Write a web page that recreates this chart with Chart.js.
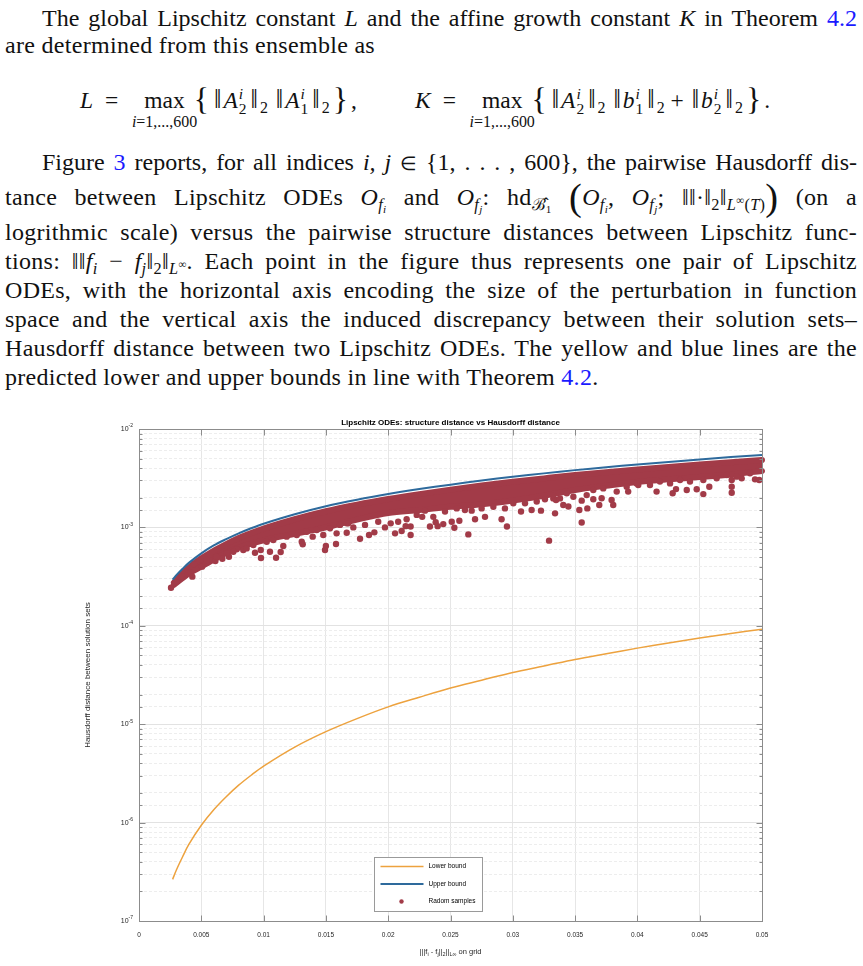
<!DOCTYPE html>
<html>
<head>
<meta charset="utf-8">
<script src="https://cdn.jsdelivr.net/npm/chart.js@4.4.1/dist/chart.umd.min.js"></script>
<style>
  html, body { margin: 0; padding: 0; background: #fff; }
  body { width: 863px; height: 966px; position: relative; overflow: hidden;
         font-family: "Liberation Serif", "Times New Roman", serif; font-size: 24px; color: #111; }
  .ln { position: absolute; left: 5px; width: 852px; height: 29px; line-height: 29px;
        text-align: justify; text-align-last: justify; letter-spacing: 0.3px; }
  .ln.ind { left: 42px; width: 815px; letter-spacing: 0; }
  .ln.last { text-align: left; text-align-last: left; }
  a { color: #1a1aff; text-decoration: none; }
  sub, sup { font-size: 0.68em; line-height: 0; }
  sub { vertical-align: -0.3em; }
  sup { vertical-align: 0.55em; }
  .in { font-size: 0.8em; }
  .big { font-size: 1.6em; vertical-align: -0.12em; line-height: 0; font-weight: 300; }
  .disp { position: absolute; white-space: nowrap; line-height: 29px; font-size: 23.5px; }
  .eq { margin: 0 12px; }
  .op { display: inline-block; position: relative; margin: 0 6px 0 14px; }
  .lim { position: absolute; top: 21px; left: 50%; transform: translateX(-50%);
         font-size: 0.68em; white-space: nowrap; }
  .ss { display: inline-flex; flex-direction: column; font-size: 0.66em; line-height: 0.95em;
        vertical-align: 0.6em; margin: 0 2px 0 1px; }
  .nb { font-size: 1.12em; margin: 0 2px; }
  .br { font-size: 1.35em; vertical-align: -0.06em; margin: 0 3px; }
  #wrap { position: absolute; left: 0; top: 400px; width: 863px; height: 566px; }
</style>
</head>
<body>

<div class="ln ind" style="top:4px">The global Lipschitz constant <i>L</i> and the affine growth constant <i>K</i> in Theorem <a>4.2</a></div>
<div class="ln last" style="top:31px">are determined from this ensemble as</div>

<div class="disp" style="left:80px;top:85px"><i>L</i><span class="eq">=</span><span class="op">max<span class="lim"><i>i</i>=1,...,600</span></span><span class="br">{</span><span class="nb">‖</span><i>A</i><span class="ss"><i>i</i><span>2</span></span><span class="nb">‖</span><sub>2</sub>&nbsp;<span class="nb">‖</span><i>A</i><span class="ss"><i>i</i><span>1</span></span><span class="nb">‖</span><sub>2</sub><span class="br">}</span>,</div>
<div class="disp" style="left:415px;top:85px"><i>K</i><span class="eq">=</span><span class="op">max<span class="lim"><i>i</i>=1,...,600</span></span><span class="br">{</span><span class="nb">‖</span><i>A</i><span class="ss"><i>i</i><span>2</span></span><span class="nb">‖</span><sub>2</sub>&nbsp;<span class="nb">‖</span><i>b</i><span class="ss"><i>i</i><span>1</span></span><span class="nb">‖</span><sub>2</sub> + <span class="nb">‖</span><i>b</i><span class="ss"><i>i</i><span>2</span></span><span class="nb">‖</span><sub>2</sub><span class="br">}</span>.</div>

<div class="ln ind" style="top:148px">Figure <a>3</a> reports, for all indices <i>i, j</i> <span class="in">∈</span> {1, . . . , 600}, the pairwise Hausdorff dis-</div>
<div class="ln" style="top:183px">tance between Lipschitz ODEs <i>O</i><sub><i>f<sub>i</sub></i></sub> and <i>O</i><sub><i>f<sub>j</sub></i></sub>: hd<sub>ℬ̂<sub>1</sub></sub> <span class="big">(</span><i>O</i><sub><i>f<sub>i</sub></i></sub>, <i>O</i><sub><i>f<sub>j</sub></i></sub>; ‖‖·‖<sub>2</sub>‖<sub><i>L</i><sup>∞</sup>(<i>T</i>)</sub><span class="big">)</span> (on a</div>
<div class="ln" style="top:218px">logrithmic scale) versus the pairwise structure distances between Lipschitz func-</div>
<div class="ln" style="top:247px">tions: ‖‖<i>f<sub>i</sub></i> − <i>f<sub>j</sub></i>‖<sub>2</sub>‖<sub><i>L</i><sup>∞</sup></sub>. Each point in the figure thus represents one pair of Lipschitz</div>
<div class="ln" style="top:276px">ODEs, with the horizontal axis encoding the size of the perturbation in function</div>
<div class="ln" style="top:305px">space and the vertical axis the induced discrepancy between their solution sets–</div>
<div class="ln" style="top:334px">Hausdorff distance between two Lipschitz ODEs. The yellow and blue lines are the</div>
<div class="ln last" style="top:363px">predicted lower and upper bounds in line with Theorem <a>4.2</a>.</div>

<div id="wrap"><canvas id="chart" width="863" height="566"></canvas></div>

<script>
// structure distance grid for the two bound curves
const boundX = [0.0027, 0.003, 0.0035, 0.004, 0.005, 0.006, 0.007, 0.008, 0.009, 0.01, 0.0125, 0.015, 0.0175,
  0.02, 0.0225, 0.025, 0.0275, 0.03, 0.0325, 0.035, 0.0375, 0.04, 0.0425, 0.045, 0.0475, 0.05];
const lowerBound = [2.65e-7, 3.3e-7, 4.5e-7, 6.0e-7, 9.4e-7, 1.35e-6, 1.83e-6, 2.4e-6, 3.03e-6, 3.75e-6, 5.85e-6,
  8.4e-6, 1.14e-5, 1.5e-5, 1.88e-5, 2.33e-5, 2.8e-5, 3.36e-5, 3.9e-5, 4.55e-5, 5.2e-5, 5.93e-5, 6.7e-5,
  7.5e-5, 8.35e-5, 9.25e-5];
const upperBound = [2.95e-4, 3.27e-4, 3.8e-4, 4.36e-4, 5.45e-4, 6.55e-4, 7.6e-4, 8.7e-4, 9.8e-4, 1.09e-3, 1.36e-3,
  1.64e-3, 1.91e-3, 2.18e-3, 2.45e-3, 2.72e-3, 3.0e-3, 3.27e-3, 3.54e-3, 3.82e-3, 4.09e-3, 4.36e-3, 4.63e-3,
  4.9e-3, 5.18e-3, 5.45e-3];

// dense part of the sample cloud (top and bottom edge of the red band)
const bandX = [0.0028, 0.004, 0.005, 0.0075, 0.01, 0.0125, 0.015, 0.0175, 0.02, 0.0225, 0.025,
  0.0275, 0.03, 0.0325, 0.035, 0.0375, 0.04, 0.0425, 0.045, 0.0475, 0.05];
const bandTop = [2.75e-4, 3.9e-4, 4.85e-4, 7.3e-4, 9.7e-4, 1.21e-3, 1.46e-3, 1.7e-3, 1.94e-3, 2.18e-3, 2.42e-3,
  2.67e-3, 2.91e-3, 3.15e-3, 3.4e-3, 3.64e-3, 3.88e-3, 4.12e-3, 4.36e-3, 4.6e-3, 4.85e-3];
const bandBottom = [2.6e-4, 3.4e-4, 4.0e-4, 5.9e-4, 7.4e-4, 8.6e-4, 1.0e-3, 1.2e-3, 1.4e-3, 1.5e-3, 1.62e-3,
  1.72e-3, 1.88e-3, 2.1e-3, 2.4e-3, 2.65e-3, 2.9e-3, 3.08e-3, 3.25e-3, 3.45e-3, 3.75e-3];

// scattered samples below the dense band
const sampleX = [0.00257, 0.00297, 0.00343, 0.00388, 0.00415, 0.00428, 0.00441, 0.00506, 0.00613, 0.00669,
  0.00722, 0.00784, 0.00837, 0.00931, 0.00977, 0.00979, 0.01051, 0.011, 0.01137, 0.01158,
  0.01306, 0.01314, 0.01394, 0.01479, 0.01493, 0.015, 0.01581, 0.01586, 0.01667, 0.01774,
  0.01846, 0.01889, 0.0202, 0.02055, 0.02108, 0.0214, 0.0218, 0.0218, 0.02273, 0.02335,
  0.02381, 0.02397, 0.02442, 0.0251, 0.02531, 0.02571, 0.02643, 0.02697, 0.02777, 0.0291,
  0.02953, 0.03066, 0.03151, 0.03226, 0.03291, 0.03339, 0.03347, 0.03405, 0.03446, 0.03534,
  0.03553, 0.03553, 0.03598, 0.03646, 0.03694, 0.03713, 0.03793, 0.03806, 0.03926, 0.04007,
  0.04154, 0.04283, 0.0431, 0.04396, 0.04476, 0.04529, 0.04577, 0.04757, 0.04757, 0.04757,
  0.04837, 0.04944, 0.04978,
  0.00543, 0.00623, 0.00704, 0.00757, 0.00864, 0.00918, 0.01025, 0.01078, 0.01185, 0.01266,
  0.01346, 0.01426, 0.01533, 0.01613, 0.01667, 0.0168, 0.0172, 0.01814, 0.0192, 0.01974,
  0.0208, 0.02148, 0.02229, 0.02295, 0.02362, 0.02456, 0.0255, 0.02616, 0.0267, 0.0275,
  0.02844, 0.02937, 0.03004, 0.03098, 0.03192, 0.03258, 0.03325, 0.03325, 0.03379, 0.03433,
  0.03486, 0.03593, 0.03646, 0.03726, 0.03834, 0.03914, 0.03994, 0.04101, 0.04181, 0.04262,
  0.04342, 0.04422, 0.04529, 0.04636, 0.04717, 0.04797, 0.04904];
const sampleY = [2.44e-4, 2.81e-4, 3.2e-4, 3.75e-4, 3.49e-4, 3.16e-4, 4.22e-4, 3.99e-4, 4.56e-4, 4.81e-4,
  5.04e-4, 5.99e-4, 5.89e-4, 5.53e-4, 5.89e-4, 4.89e-4, 5.66e-4, 4.92e-4, 5.62e-4, 6.46e-4,
  7.16e-4, 6.73e-4, 8.05e-4, 8.38e-4, 5.89e-4, 6.46e-4, 6.78e-4, 8.7e-4, 8.83e-4, 7.68e-4,
  8.38e-4, 8.91e-4, 1.1e-3, 8.7e-4, 9.18e-4, 1.03e-3, 8.38e-4, 1.02e-3, 1.28e-3, 1.02e-3,
  1.13e-3, 1.03e-3, 1.08e-3, 1.14e-3, 9.93e-4, 1.17e-3, 8.49e-4, 1.21e-3, 1.28e-3, 1.21e-3,
  1.02e-3, 1.45e-3, 1.5e-3, 1.48e-3, 7.33e-4, 1.39e-3, 1.9e-3, 1.69e-3, 1.63e-3, 1.5e-3,
  1.12e-3, 1.87e-3, 1.56e-3, 1.93e-3, 1.69e-3, 1.98e-3, 1.9e-3, 1.69e-3, 2.31e-3, 2.7e-3,
  2.31e-3, 2.22e-3, 2.45e-3, 2.4e-3, 2.44e-3, 2.18e-3, 2.59e-3, 2.59e-3, 2.25e-3, 3.03e-3,
  3.15e-3, 3.08e-3, 3.03e-3,
  4.67e-4, 5.04e-4, 5.45e-4, 5.66e-4, 6.12e-4, 6.62e-4, 7.16e-4, 7.45e-4, 8.05e-4, 8.38e-4,
  9.04e-4, 9.42e-4, 9.79e-4, 1.06e-3, 1.1e-3, 1.1e-3, 1.0e-3, 1.06e-3, 1.14e-3, 1.0e-3,
  1.14e-3, 1.21e-3, 1.34e-3, 1.48e-3, 1.28e-3, 1.45e-3, 1.56e-3, 1.5e-3, 1.48e-3, 1.56e-3,
  1.62e-3, 1.56e-3, 1.76e-3, 1.76e-3, 1.83e-3, 1.93e-3, 1.97e-3, 2.13e-3, 1.97e-3, 2.22e-3,
  2.05e-3, 2.13e-3, 2.4e-3, 2.49e-3, 2.31e-3, 2.59e-3, 2.8e-3, 2.7e-3, 2.92e-3, 2.8e-3,
  3.03e-3, 2.92e-3, 3.03e-3, 3.15e-3, 3.41e-3, 3.28e-3, 3.55e-3];

const xTickLabels = ['0', '0.005', '0.01', '0.015', '0.02', '0.025', '0.03', '0.035', '0.04', '0.045', '0.05'];

const RED = '#a23b48';
const ORANGE = '#eda23e';
const BLUE = '#2e6a9c';
const INK = '#262626';

function pts(xs, ys) {
  return xs.map(function (x, i) { return { x: x, y: ys[i] }; });
}
function isDecade(v) {
  const l = Math.log10(v);
  return Math.abs(l - Math.round(l)) < 1e-6;
}

Chart.defaults.font.family = '"Liberation Sans", Arial, sans-serif';

// MATLAB-like box, inner tick marks, superscript tick labels, titles and legend
const matlabAxes = {
  id: 'matlabAxes',
  afterDraw(chart) {
    const ctx = chart.ctx;
    const a = chart.chartArea;
    const xs = chart.scales.x;
    const ys = chart.scales.y;
    ctx.save();

    ctx.strokeStyle = '#8c8c8c';
    ctx.lineWidth = 1;
    const L = Math.round(a.left) + 0.5, R = Math.round(a.right) + 0.5;
    const T = Math.round(a.top) + 0.5, B = Math.round(a.bottom) + 0.5;
    ctx.strokeRect(L, T, R - L, B - T);

    ctx.beginPath();
    xs.ticks.forEach(function (t) {
      const px = Math.round(xs.getPixelForValue(t.value)) + 0.5;
      ctx.moveTo(px, B); ctx.lineTo(px, B - 6);
      ctx.moveTo(px, T); ctx.lineTo(px, T + 6);
    });
    ys.ticks.forEach(function (t) {
      const py = Math.round(ys.getPixelForValue(t.value)) + 0.5;
      const len = isDecade(t.value) ? 6 : 3;
      ctx.moveTo(L, py); ctx.lineTo(L + len, py);
      ctx.moveTo(R, py); ctx.lineTo(R - len, py);
    });
    ctx.stroke();

    // y tick labels 10^n
    ctx.fillStyle = INK;
    ctx.textBaseline = 'middle';
    ctx.textAlign = 'right';
    ys.ticks.forEach(function (t) {
      if (!isDecade(t.value)) return;
      const py = ys.getPixelForValue(t.value);
      const ex = String(Math.round(Math.log10(t.value)));
      ctx.font = '5px "Liberation Sans", Arial, sans-serif';
      const ew = ctx.measureText(ex).width;
      ctx.fillText(ex, a.left - 6, py - 3);
      ctx.font = '7px "Liberation Sans", Arial, sans-serif';
      ctx.fillText('10', a.left - 6 - ew, py);
    });

    // title
    ctx.textAlign = 'center';
    ctx.font = 'bold 8px "Liberation Sans", Arial, sans-serif';
    ctx.fillStyle = '#000';
    ctx.fillText('Lipschitz ODEs: structure distance vs Hausdorff distance', (a.left + a.right) / 2, a.top - 6);

    // y axis title
    ctx.fillStyle = INK;
    ctx.font = '8px "Liberation Sans", Arial, sans-serif';
    ctx.save();
    ctx.translate(a.left - 51, (a.top + a.bottom) / 2);
    ctx.rotate(-Math.PI / 2);
    ctx.fillText('Hausdorff distance between solution sets', 0, 0);
    ctx.restore();

    // x axis title with subscripts
    const segs = [['|||f', 0], ['i', 1], [' - f', 0], ['j', 1], ['||', 0], ['2', 1], ['||', 0], ['L\u221E', 1], [' on grid', 0]];
    let total = 0;
    segs.forEach(function (s) {
      ctx.font = (s[1] ? '5.5px' : '7.5px') + ' "Liberation Sans", Arial, sans-serif';
      total += ctx.measureText(s[0]).width;
    });
    let cx = (a.left + a.right) / 2 - total / 2;
    const by = a.bottom + 33;
    ctx.textAlign = 'left';
    ctx.textBaseline = 'alphabetic';
    segs.forEach(function (s) {
      ctx.font = (s[1] ? '5.5px' : '7.5px') + ' "Liberation Sans", Arial, sans-serif';
      ctx.fillText(s[0], cx, by + (s[1] ? 2 : 0));
      cx += ctx.measureText(s[0]).width;
    });

    // legend
    const lx = Math.round(a.left + 235) + 0.5, ly = Math.round(a.top + 428) + 0.5;
    ctx.fillStyle = '#fff';
    ctx.fillRect(lx, ly, 108, 54);
    ctx.strokeStyle = '#9a9a9a';
    ctx.strokeRect(lx, ly, 108, 54);
    ctx.font = '6.5px "Liberation Sans", Arial, sans-serif';
    ctx.textBaseline = 'middle';
    const items = chart.data.datasets.filter(function (d) { return d.inLegend; });
    items.forEach(function (d, i) {
      const yy = ly + 9 + i * 17.5;
      if (d.type === 'scatter') {
        ctx.fillStyle = d.backgroundColor;
        ctx.beginPath(); ctx.arc(lx + 27, yy, 2.2, 0, Math.PI * 2); ctx.fill();
      } else {
        ctx.strokeStyle = d.borderColor;
        ctx.lineWidth = d.borderWidth;
        ctx.beginPath(); ctx.moveTo(lx + 6, yy); ctx.lineTo(lx + 49, yy); ctx.stroke();
      }
      ctx.fillStyle = '#000';
      ctx.fillText(d.label, lx + 54, yy);
    });
    ctx.restore();
  }
};

const chart = new Chart(document.getElementById('chart'), {
  data: {
    datasets: [{
      type: 'line',
      label: 'Lower bound',
      inLegend: true,
      data: pts(boundX, lowerBound),
      borderColor: ORANGE,
      borderWidth: 1.5,
      pointRadius: 0,
      tension: 0.35,
      order: 0
    },
    {
      type: 'line',
      label: 'Upper bound',
      inLegend: true,
      data: pts(boundX, upperBound),
      borderColor: BLUE,
      borderWidth: 2,
      pointRadius: 0,
      tension: 0.35,
      order: 0
    },
    {
      type: 'scatter',
      label: 'Radom samples',
      inLegend: true,
      data: pts(sampleX, sampleY),
      backgroundColor: RED,
      borderWidth: 0,
      pointRadius: 3.2,
      clip: 4,
      order: 1
    },
    {
      type: 'line',
      label: 'band top',
      data: pts(bandX, bandTop),
      borderColor: RED,
      borderWidth: 6,
      borderCapStyle: 'round',
      pointRadius: 0,
      fill: false,
      cubicInterpolationMode: 'monotone',
      clip: 4,
      order: 2
    },
    {
      type: 'line',
      label: 'band bottom',
      data: pts(bandX, bandBottom),
      borderColor: RED,
      borderWidth: 6,
      borderCapStyle: 'round',
      backgroundColor: RED,
      pointRadius: 0,
      fill: '-1',
      cubicInterpolationMode: 'monotone',
      clip: 4,
      order: 2
    }]
  },
  options: {
    responsive: false,
    animation: false,
    layout: { padding: { left: 0, right: 101, top: 29, bottom: 0 } },
    plugins: {
      legend: { display: false },
      title: { display: false },
      tooltip: { enabled: false }
    },
    scales: {
      x: {
        type: 'linear',
        min: 0,
        max: 0.05,
        ticks: {
          stepSize: 0.005,
          autoSkip: false,
          maxRotation: 0,
          padding: 10,
          color: INK,
          font: { size: 6.5 },
          callback: function (v, i) { return xTickLabels[i]; }
        },
        grid: { color: '#e6e6e6', drawTicks: false },
        border: { display: false },
        afterFit: function (s) { s.height = 45; s.paddingLeft = 0; s.paddingRight = 0; }
      },
      y: {
        type: 'logarithmic',
        min: 1e-7,
        max: 1e-2,
        ticks: { display: false, autoSkip: false },
        grid: {
          drawTicks: false,
          color: function (c) { return isDecade(c.tick.value) ? '#e2e2e2' : '#ededed'; }
        },
        border: {
          display: false,
          dash: function (c) { return isDecade(c.tick.value) ? [] : [3, 2]; }
        },
        afterFit: function (s) { s.width = 139; s.paddingTop = 0; s.paddingBottom = 0; }
      }
    }
  },
  plugins: [matlabAxes]
});
</script>
</body>
</html>
